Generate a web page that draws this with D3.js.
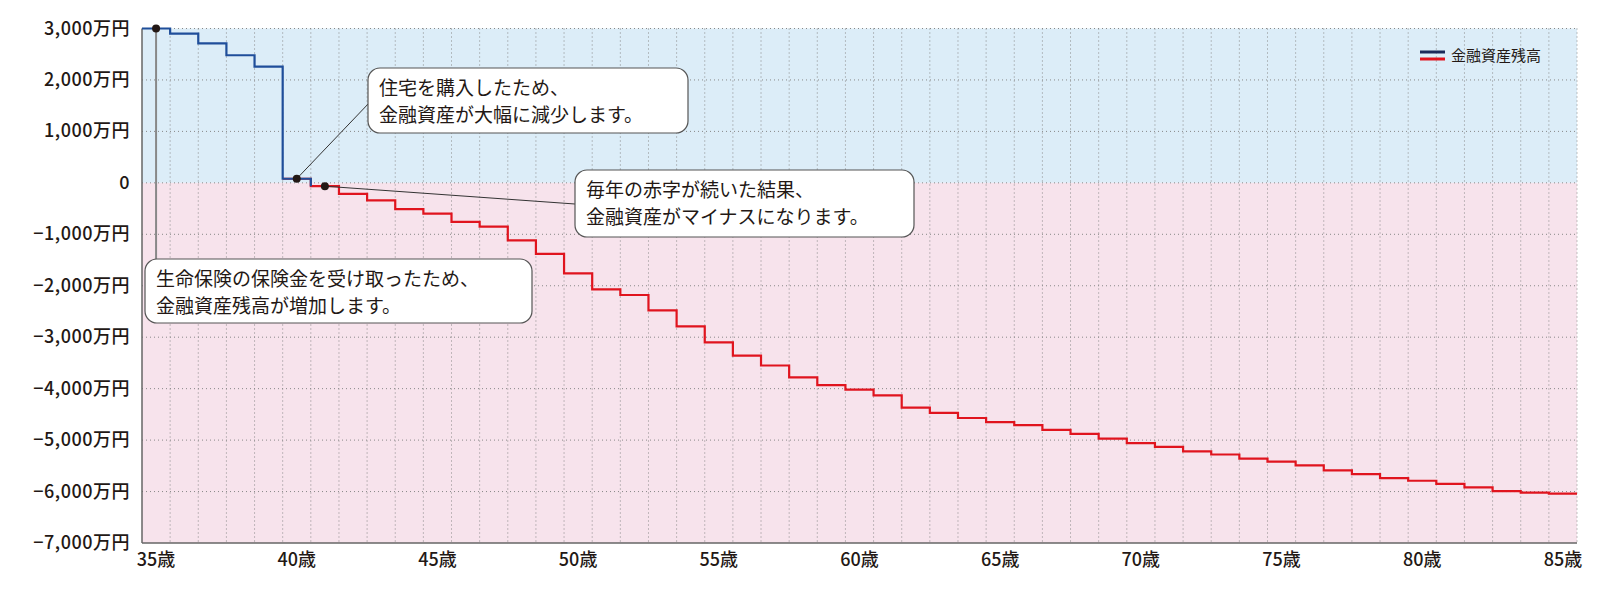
<!DOCTYPE html>
<html><head><meta charset="utf-8">
<script src="https://cdn.jsdelivr.net/npm/d3@7"></script>
<style>body{margin:0;background:#fff}svg{font-family:"Noto Sans CJK JP","Noto Sans",sans-serif}</style>
</head><body><svg id="c" width="1601" height="601"></svg>
<script>
const ages = d3.range(35, 86);
const values = [3000,2900,2710,2480,2260,80,-65,-215,-340,-510,-600,-760,-850,-1120,-1380,-1760,-2070,-2180,-2480,-2790,-3100,-3360,-3550,-3780,-3930,-4020,-4130,-4370,-4470,-4570,-4650,-4710,-4800,-4880,-4970,-5060,-5130,-5220,-5280,-5360,-5420,-5490,-5590,-5660,-5740,-5790,-5850,-5920,-5990,-6020,-6040];
const yTicks = [3000,2000,1000,0,-1000,-2000,-3000,-4000,-5000,-6000,-7000];
const xTicks = [35,40,45,50,55,60,65,70,75,80,85];
const legendLabel = "金融資産残高";
const notes = [
  {lines:["住宅を購入したため、","金融資産が大幅に減少します。"], age:40, box:[368,68,320,65], anchor:[370,102]},
  {lines:["毎年の赤字が続いた結果、","金融資産がマイナスになります。"], age:41, box:[575,170,339,67], anchor:[575,204]},
  {lines:["生命保険の保険金を受け取ったため、","金融資産残高が増加します。"], age:35, box:[145,259,387,64], anchor:null}
];
const svg = d3.select("#c");
const L=142,R=1577,T=28.5,B=543;
const x = d3.scaleBand().domain(ages).range([L,R]).padding(0);
const y = d3.scaleLinear().domain([-7000,3000]).range([B,T]);
svg.append("rect").attr("x",L).attr("y",y(3000)).attr("width",R-L).attr("height",y(0)-y(3000)).attr("fill","#dcedf8");
svg.append("rect").attr("x",L).attr("y",y(0)).attr("width",R-L).attr("height",y(-7000)-y(0)).attr("fill","#f7e3ec");
ages.slice(1).forEach(a=>svg.append("line").attr("x1",x(a)).attr("x2",x(a)).attr("y1",T).attr("y2",B).attr("stroke","#888").attr("stroke-dasharray","1,3"));
svg.append("line").attr("x1",R).attr("x2",R).attr("y1",T).attr("y2",B).attr("stroke","#888").attr("stroke-dasharray","1,3");
yTicks.forEach(v=>{ if(v!==-7000) svg.append("line").attr("x1",L).attr("x2",R).attr("y1",y(v)).attr("y2",y(v)).attr("stroke","#888").attr("stroke-dasharray","1,3");
  svg.append("text").attr("x",130).attr("y",y(v)+6).attr("text-anchor","end").attr("font-size",18).attr("font-weight",500).attr("letter-spacing","0.5").attr("fill","#231815").text(v===0?"0":d3.format(",")(v)+"万円");});
svg.append("line").attr("x1",L).attr("x2",L).attr("y1",T).attr("y2",B).attr("stroke","#666").attr("stroke-width",1.5);
svg.append("line").attr("x1",L).attr("x2",R).attr("y1",B).attr("y2",B).attr("stroke","#666").attr("stroke-width",1.5);
xTicks.forEach(a=>svg.append("text").attr("x",x(a)+x.bandwidth()/2).attr("y",B+23).attr("text-anchor","middle").attr("font-size",18).attr("font-weight",500).attr("fill","#231815").text(a+"歳"));
const pts = ages.map((a,i)=>[x(a),values[i]]); pts.push([R,values[values.length-1]]);
const line = d3.line().x(d=>d[0]).y(d=>y(d[1])).curve(d3.curveStepAfter);
const blueN = 6;
svg.append("path").attr("d",line(pts.slice(blueN-1))).attr("fill","none").attr("stroke","#e0141e").attr("stroke-width",2.2);
svg.append("path").attr("d",line(pts.slice(0,blueN+1))).attr("fill","none").attr("stroke","#1f4e9a").attr("stroke-width",2.2);
notes.forEach(n=>{
  const cx=x(n.age)+x.bandwidth()/2, cy=y(values[ages.indexOf(n.age)]);
  if(n.anchor) svg.append("line").attr("x1",cx).attr("y1",cy).attr("x2",n.anchor[0]).attr("y2",n.anchor[1]).attr("stroke","#333").attr("stroke-width",1);
  else svg.append("line").attr("x1",cx).attr("y1",cy).attr("x2",cx).attr("y2",n.box[1]).attr("stroke","#888").attr("stroke-width",2);
  const [bx,by,bw,bh]=n.box;
  svg.append("rect").attr("x",bx).attr("y",by).attr("width",bw).attr("height",bh).attr("rx",12).attr("fill","#fff").attr("stroke","#555").attr("stroke-width",1.2);
  n.lines.forEach((t,i)=>svg.append("text").attr("x",bx+11).attr("y",by+27+i*27).attr("font-size",19).attr("fill","#231815").text(t));
  svg.append("circle").attr("cx",cx).attr("cy",cy).attr("r",4).attr("fill","#231815");
});
svg.append("line").attr("x1",1420).attr("x2",1445).attr("y1",52).attr("y2",52).attr("stroke","#1b2a5a").attr("stroke-width",3);
svg.append("line").attr("x1",1420).attr("x2",1445).attr("y1",59).attr("y2",59).attr("stroke","#e0141e").attr("stroke-width",3);
svg.append("text").attr("x",1451).attr("y",61).attr("font-size",15).attr("fill","#231815").text(legendLabel);
</script></body></html>
